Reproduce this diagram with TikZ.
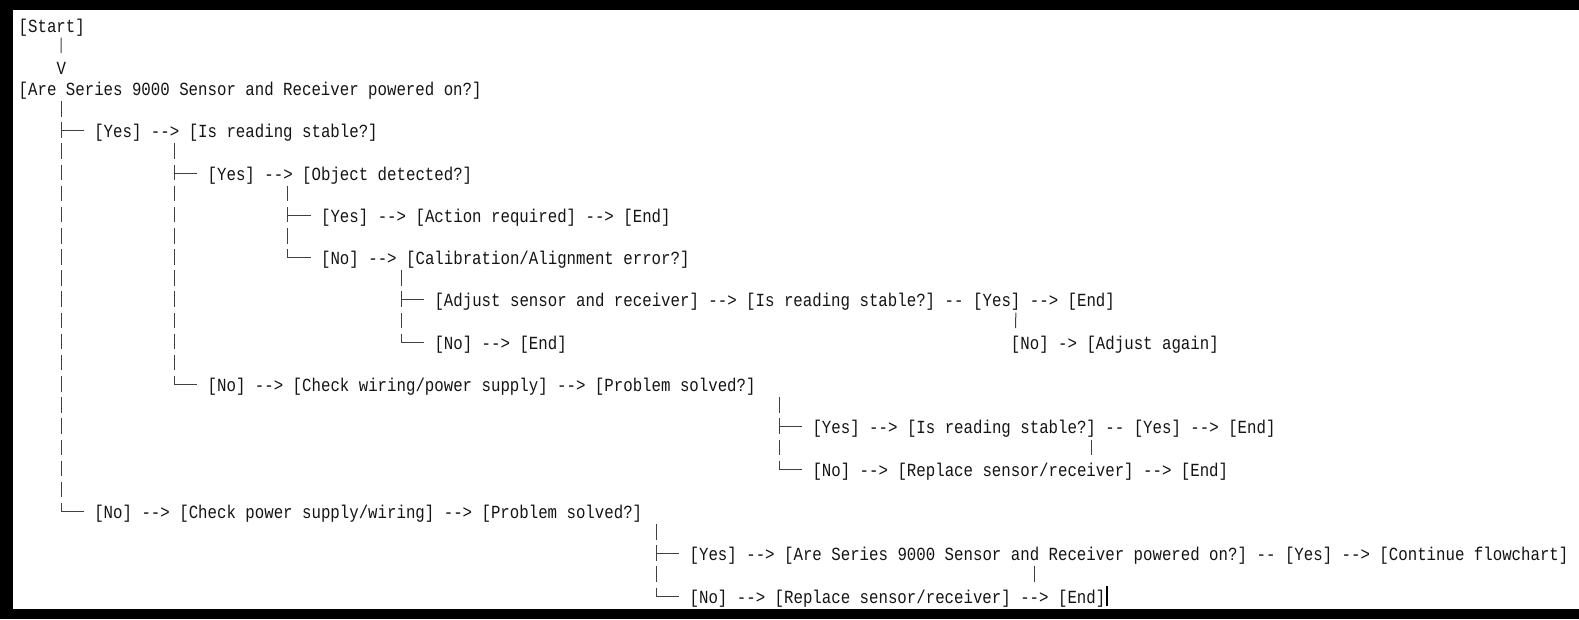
\documentclass[tikz,border=0pt]{standalone}
\usepackage{fontspec}
\setmonofont{Liberation Mono}[FakeStretch=0.851]
\usetikzlibrary{calc}

\tikzset{
  txt/.style={anchor=base west, inner sep=0pt, text height=14pt, text depth=0pt,
    font=\ttfamily\fontsize{18.5}{21}\selectfont, text=black!92},
  trunk/.style={draw=black!75, line width=1pt, dash pattern=on 15.5pt off 5.65pt},
  stub/.style={draw=black!75, line width=1pt},
}

\begin{document}
\begin{tikzpicture}[x=9.45pt,y=-21.15pt]
% frame
\fill[white] (0pt,0pt) rectangle (1579pt,-619pt);
\fill[black] (0pt,0pt) rectangle (1579pt,-10pt);
\fill[black] (0pt,0pt) rectangle (13pt,-619pt);
\fill[black] (0pt,-609pt) rectangle (1579pt,-619pt);
\useasboundingbox (0pt,0pt) rectangle (1579pt,-619pt);

\begin{scope}[shift={(18.5pt,-10.85pt)}]
% text lines (column, row)
\node[txt] (start) at (0,1) {[Start]};
\node[txt] (vhead) at (4,3) {V};
\node[txt] (q0) at (0,4) {[Are Series 9000 Sensor and Receiver powered on?]};
\node[txt] (y6) at (8,6) {[Yes] --> [Is reading stable?]};
\node[txt] (y8) at (20,8) {[Yes] --> [Object detected?]};
\node[txt] (y10) at (32,10) {[Yes] --> [Action required] --> [End]};
\node[txt] (n12) at (32,12) {[No] --> [Calibration/Alignment error?]};
\node[txt] (a14) at (44,14) {[Adjust sensor and receiver] --> [Is reading stable?] --};
\node[txt] (y14) at (101,14) {[Yes]};
\node[txt] (e14) at (107,14) {--> [End]};
\node[txt] (n16) at (44,16) {[No] --> [End]};
\node[txt] (n16b) at (105,16) {[No] -> [Adjust again]};
\node[txt] (n18) at (20,18) {[No] --> [Check wiring/power supply] --> [Problem solved?]};
\node[txt] (y20) at (84,20) {[Yes] -->};
\node[txt] (s20) at (94,20) {[Is reading stable?]};
\node[txt] (e20) at (115,20) {-- [Yes] --> [End]};
\node[txt] (n22) at (84,22) {[No] --> [Replace sensor/receiver] --> [End]};
\node[txt] (n24) at (8,24) {[No] --> [Check power supply/wiring] --> [Problem solved?]};
\node[txt] (y26) at (71,26) {[Yes] -->};
\node[txt] (q26) at (81,26) {[Are Series 9000 Sensor and Receiver powered on?]};
\node[txt] (e26) at (131,26) {-- [Yes] --> [Continue flowchart]};
\node[txt] (n28) at (71,28) {[No] --> [Replace sensor/receiver] --> [End]};

% trunk tops
\coordinate (t0) at ($(q0.base west)+(4.5,0.267)$);
\coordinate (t1) at ($(y6.base west)+(8.5,0.267)$);
\coordinate (t2) at ($(y8.base west)+(8.5,0.267)$);
\coordinate (t3) at ($(n12.base west)+(8.5,0.267)$);
\coordinate (t4) at ($(n18.base west)+(60.5,0.267)$);
\coordinate (t5) at ($(n24.base west)+(59.5,0.267)$);

% Start to question
\draw[trunk] ($(start.base west)+(4.5,0.267)$) -- ($(vhead.base)+(0,-1)$);

% branches
\draw[trunk] (t0) -- (t0 |- n24.west);
\draw[trunk] (t1) -- (t1 |- n18.west);
\draw[trunk] (t2) -- (t2 |- n12.west);
\draw[trunk] (t3) -- (t3 |- n16.west);
\draw[trunk] (t4) -- (t4 |- n22.west);
\draw[trunk] (t5) -- (t5 |- n28.west);
\foreach \t/\k in {t0/y6,t0/n24,t1/y8,t1/n18,t2/y10,t2/n12,t3/a14,t3/n16,t4/y20,t4/n22,t5/y26,t5/n28}
  \draw[stub] (\t |- \k.west) -- ($(\k.west)+(-1.1,0)$);

% short bars
\draw[trunk] ($(y14.base east)+(-0.5,0.267)$) -- ($(n16b.base west)+(0.5,-1)$);
\draw[trunk] ($(s20.base east)+(-0.5,0.267)$) -- ($(s20.base east)+(-0.5,1)$);
\draw[trunk] ($(q26.base west)+(26.5,0.267)$) -- ($(q26.base west)+(26.5,1)$);

% text cursor
\draw[black, line width=1.2pt] ($(n28.base east)+(0.15,0.15)$) -- ($(n28.base east)+(0.15,-0.8)$);
\end{scope}
\end{tikzpicture}
\end{document}
